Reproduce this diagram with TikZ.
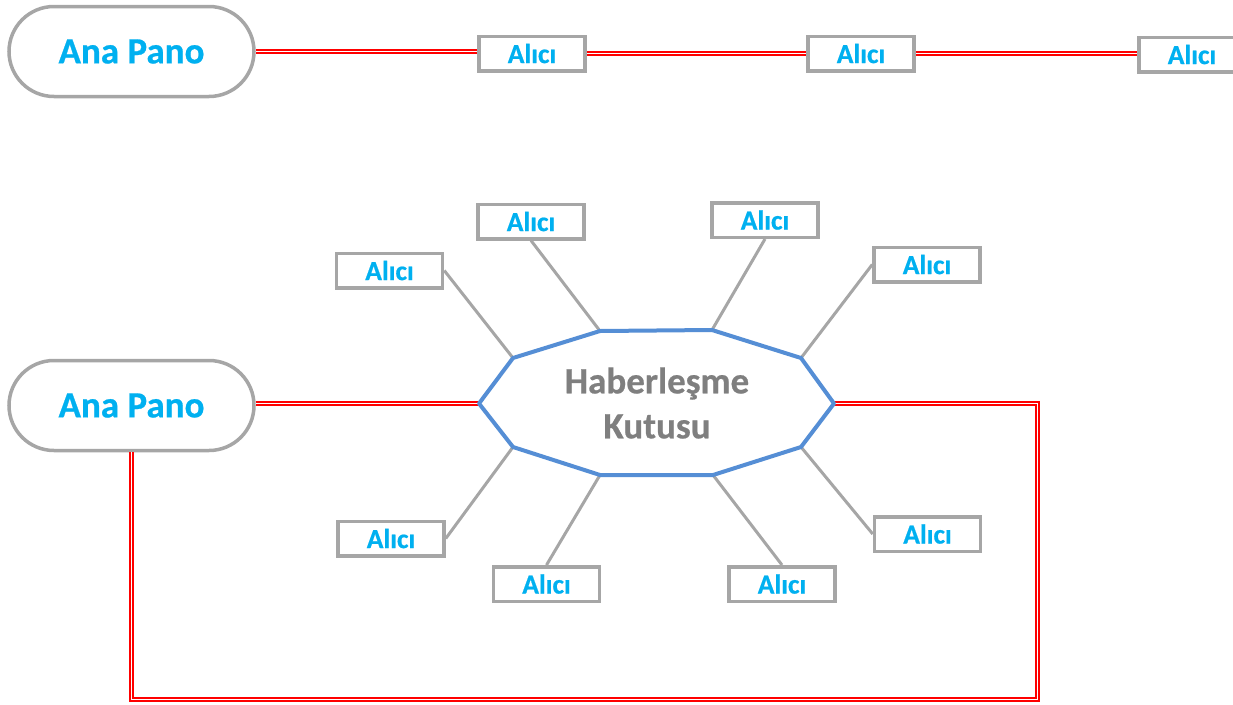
\documentclass[tikz,border=0pt]{standalone}
\usepackage{fontspec}
\setmainfont{Carlito}[BoldFeatures={FakeBold=0.6}]
\definecolor{framegray}{HTML}{A6A6A6}
\definecolor{labelcyan}{HTML}{00B0F0}
\definecolor{hubgray}{HTML}{7F7F7F}
\definecolor{hubblue}{HTML}{558ED5}
\begin{document}
\begin{tikzpicture}[x=1pt,y=-1pt,
  pano/.style={draw=framegray, line width=3.5pt, fill=white, rounded corners=45pt,
    minimum width=245pt, minimum height=90pt, inner sep=0pt, text=labelcyan,
    font=\fontsize{37}{40}\selectfont\bfseries},
  receiver/.style={draw=framegray, line width=3.5pt, fill=white,
    minimum width=106pt, minimum height=34.5pt, inner sep=0pt, text=labelcyan,
    font=\fontsize{27.5}{30}\selectfont\bfseries},
  bus/.style={draw=red, line width=1.4pt, double=white, double distance=1.5pt},
  spoke/.style={draw=framegray, line width=3pt},
  hubframe/.style={draw=hubblue, line width=4pt, line join=round, fill=white},
  hubtext/.style={text=hubgray, align=center, inner sep=0pt,
    font=\fontsize{37}{45}\selectfont\bfseries}]
\useasboundingbox (0,0) rectangle (1233,704);

% ---- serial line: main panel and three receivers in a chain
\node[pano] (pano1) at (131.5,51.5) {Ana Pano};
\node[receiver] (a1) at (532,53.5) {Alıcı};
\node[receiver] (a2) at (861,53.5) {Alıcı};
\node[receiver] (a3) at (1192,54.5) {Alıcı};
\draw[bus] (pano1.east) -- (pano1.east -| a1.west);
\draw[bus] (a1.east) -- (a1.east -| a2.west);
\draw[bus] (a2.east) -- (a2.east -| a3.west);

% ---- star layout: communication box with eight receivers
\node[pano] (pano2) at (131.5,405.5) {Ana Pano};

\coordinate (v1) at (479,403.5);
\coordinate (v2) at (513,358);
\coordinate (v3) at (600,331);
\coordinate (v4) at (712,330);
\coordinate (v5) at (801,358);
\coordinate (v6) at (834,403.5);
\coordinate (v7) at (801,447);
\coordinate (v8) at (713,475);
\coordinate (v9) at (600,475);
\coordinate (v10) at (513,447);

\node[receiver] (r1) at (389.5,270.5) {Alıcı};
\node[receiver] (r2) at (531,221.5) {Alıcı};
\node[receiver] (r3) at (765,220) {Alıcı};
\node[receiver] (r4) at (927,264.5) {Alıcı};
\node[receiver] (r5) at (927.5,534) {Alıcı};
\node[receiver] (r6) at (782,584) {Alıcı};
\node[receiver] (r7) at (546.5,584) {Alıcı};
\node[receiver] (r8) at (391,538.5) {Alıcı};

\draw[spoke] (v2) -- (r1.east);
\draw[spoke] (v3) -- (r2.south);
\draw[spoke] (v4) -- (r3.south);
\draw[spoke] (v5) -- (r4.west);
\draw[spoke] (v7) -- (r5.west);
\draw[spoke] (v8) -- (r6.north);
\draw[spoke] (v9) -- (r7.north);
\draw[spoke] (v10) -- (r8.east);

% bus from the panel into the box, and the return loop
\coordinate (c1) at (131.5,699.5);
\coordinate (c2) at (1037.5,699.5);
\coordinate (c3) at (1037.5,403.5);
\draw[bus] (v1 -| pano2.east) -- (v1);
\draw[bus] (pano2.south) -- (c1) -- (c2) -- (c3) -- (v6);

\draw[hubframe] (v1) -- (v2) -- (v3) -- (v4) -- (v5) -- (v6) -- (v7) -- (v8) -- (v9) -- (v10) -- cycle;
\node[hubtext] (hub) at (657,403) {Haberleşme\\Kutusu};
\end{tikzpicture}
\end{document}
